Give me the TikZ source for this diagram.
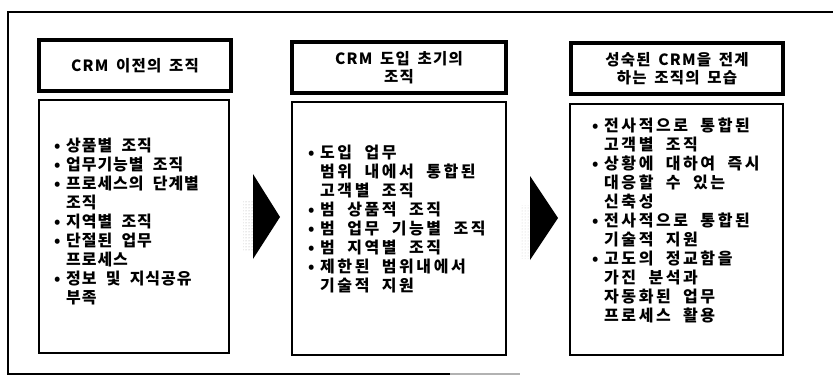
\documentclass[tikz,border=0pt]{standalone}
\usepackage{fontspec}
\newfontfamily\kra{Noto Sans CJK KR}[LetterSpace=6,WordSpace=2]
\newfontfamily\kr{Noto Sans CJK KR}[LetterSpace=16,WordSpace=2]
\newfontfamily\krt{Noto Sans CJK KR}[LetterSpace=8,WordSpace=1.6]
\usetikzlibrary{patterns}
\tikzset{
  titlebox/.style={draw, line width=3.5pt, inner sep=0pt, align=center,
    font={\krt\bfseries\fontsize{15.5}{18}\selectfont}},
  bodybox/.style={draw, line width=1.6pt, inner sep=0pt},
  bodytext/.style={anchor=north west, inner sep=0pt, align=left,
    font={\kr\bfseries\fontsize{16}{19}\selectfont}},
  tighttext/.style={bodytext, font={\kra\bfseries\fontsize{16}{19}\selectfont}},
  frameline/.style={line width=2.6pt},
  stepfill/.style={fill=black}
}
\newcommand{\bu}{\makebox[12pt][l]{•}}
\newcommand{\ind}{\hspace*{12pt}}
\begin{document}
\begin{tikzpicture}[x=1pt,y=-1pt]
\useasboundingbox (0,0) rectangle (833,388);
% outer frame (open on the right)
\draw[frameline] (833,12) -- (8,12) -- (8,374) -- (450,374);
\draw[line width=1.2pt, gray!60] (450,374) -- (520,374);
% column 1
\node[titlebox, minimum width=192pt, minimum height=51pt] (t1) at (135,65.5) {CRM 이전의 조직};
\node[bodybox, minimum width=190pt, minimum height=253pt] (b1) at (134,226.5) {};
\node[tighttext] (x1) at (54,137.5) {\bu{}상품별 조직\\\bu{}업무기능별 조직\\\bu{}프로세스의 단계별\\\ind{}조직\\\bu{}지역별 조직\\\bu{}단절된 업무\\\ind{}프로세스\\\bu{}정보 및 지식공유\\\ind{}부족};
% column 2
\node[titlebox, minimum width=214pt, minimum height=51pt] (t2) at (399,67.5) {CRM 도입 초기의\\조직};
\node[bodybox, minimum width=214pt, minimum height=253pt] (b2) at (399,228.5) {};
\node[bodytext] (x2) at (308,145) {\bu{}도입 업무\\\ind{}범위 내에서 통합된\\\ind{}고객별 조직\\\bu{}범 상품적 조직\\\bu{}범 업무 기능별 조직\\\bu{}범 지역별 조직\\\bu{}제한된 범위내에서\\\ind{}기술적 지원};
% column 3
\node[titlebox, minimum width=212pt, minimum height=51pt] (t3) at (677,68.5) {성숙된 CRM을 전계\\하는 조직의 모습};
\node[bodybox, minimum width=213pt, minimum height=251pt] (b3) at (676.5,229.5) {};
\node[bodytext] (x3) at (592,118) {\bu{}전사적으로 통합된\\\ind{}고객별 조직\\\bu{}상황에 대하여 즉시\\\ind{}대응할 수 있는\\\ind{}신축성\\\bu{}전사적으로 통합된\\\ind{}기술적 지원\\\bu{}고도의 정교함을\\\ind{}가진 분석과\\\ind{}자동화된 업무\\\ind{}프로세스 활용};
% arrows
\fill[pattern=dots, pattern color=gray!70] (243,200) rectangle (253,250);
\fill[pattern=dots, pattern color=gray!40] (521,205) rectangle (529,258);
\fill[stepfill] (253,174) -- (280,217) -- (253,259) -- cycle;
\fill[stepfill] (530,176) -- (558,218) -- (530,260) -- cycle;
\end{tikzpicture}
\end{document}
